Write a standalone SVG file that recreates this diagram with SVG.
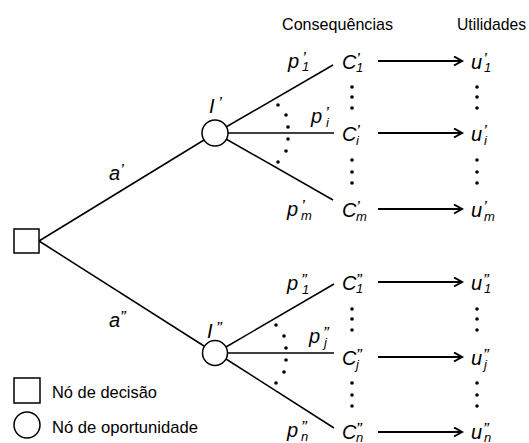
<svg xmlns="http://www.w3.org/2000/svg" width="529" height="443" viewBox="0 0 529 443">
<style>
text{font-family:"Liberation Sans",Arial,sans-serif;fill:#000}
.h{font-size:17px}
.v{font-size:20px;font-style:italic}
.pr{font-size:17px;font-style:italic}
.sb{font-size:13px;font-style:italic}
.ln{stroke:#000;stroke-width:1.5;fill:none}
.ar{stroke:#000;stroke-width:2;fill:none;marker-end:url(#ah)}
.nd{stroke:#000;stroke-width:1.5;fill:#fff}
.dt{fill:#000}
</style>
<defs>
<marker id="ah" markerWidth="12" markerHeight="12" refX="9" refY="5" orient="auto" markerUnits="userSpaceOnUse">
<path d="M1,0.5 L9,5 L1,9.5" stroke="#000" stroke-width="2" fill="none"/>
</marker>
</defs>
<text class="h" x="282" y="30" textLength="111" lengthAdjust="spacingAndGlyphs">Consequências</text>
<text class="h" x="457" y="30" textLength="69" lengthAdjust="spacingAndGlyphs">Utilidades</text>
<g id="connectors">
<line class="ln" x1="39" y1="241" x2="204" y2="140"/>
<line class="ln" x1="39" y1="241" x2="204" y2="346"/>
<line class="ln" x1="226" y1="127" x2="333" y2="65"/>
<line class="ln" x1="228" y1="133" x2="334" y2="133"/>
<line class="ln" x1="226" y1="139" x2="333" y2="200"/>
<line class="ln" x1="226" y1="347" x2="334" y2="284"/>
<line class="ln" x1="227" y1="353" x2="334" y2="353"/>
<line class="ln" x1="226" y1="359" x2="334" y2="428"/>
<line class="ar" x1="378" y1="61" x2="462" y2="61"/>
<line class="ar" x1="378" y1="133" x2="462" y2="133"/>
<line class="ar" x1="378" y1="209" x2="462" y2="209"/>
<line class="ar" x1="378" y1="282" x2="462" y2="282"/>
<line class="ar" x1="378" y1="357" x2="462" y2="357"/>
<line class="ar" x1="378" y1="432" x2="462" y2="432"/>
</g>
<g id="decision">
<rect class="nd" x="14" y="229" width="25" height="24"/>
</g>
<g id="chance1">
<circle class="nd" cx="215" cy="133" r="13"/>
<text><tspan class="v" x="209" y="113">I</tspan><tspan class="pr" x="218" y="109">’</tspan></text>
</g>
<g id="chance2">
<circle class="nd" cx="215" cy="353" r="12.5"/>
<text><tspan class="v" x="207" y="338">I</tspan><tspan class="pr" x="216" y="334">”</tspan></text>
</g>
<g id="labels-a">
<text><tspan class="v" x="109" y="180">a</tspan><tspan class="pr" x="120" y="176">’</tspan></text>
<text><tspan class="v" x="109" y="327">a</tspan><tspan class="pr" x="120" y="323">”</tspan></text>
</g>
<g id="probs1">
<text><tspan class="v" x="288" y="68">p</tspan><tspan class="pr" x="302" y="64">’</tspan><tspan class="sb" x="302" y="71">1</tspan></text>
<text><tspan class="v" x="311" y="123">p</tspan><tspan class="pr" x="325" y="119">’</tspan><tspan class="sb" x="326" y="127">i</tspan></text>
<text><tspan class="v" x="287" y="216">p</tspan><tspan class="pr" x="301" y="212">’</tspan><tspan class="sb" x="301" y="220">m</tspan></text>
<g class="dt">
<circle cx="278" cy="105" r="1.8"/><circle cx="286" cy="115" r="1.8"/><circle cx="288" cy="127" r="1.8"/>
<circle cx="288" cy="139" r="1.8"/><circle cx="286" cy="151" r="1.8"/><circle cx="278" cy="162" r="1.8"/>
</g>
</g>
<g id="probs2">
<text><tspan class="v" x="287" y="290">p</tspan><tspan class="pr" x="301" y="286">”</tspan><tspan class="sb" x="302" y="294">1</tspan></text>
<text><tspan class="v" x="309" y="343">p</tspan><tspan class="pr" x="323" y="339">”</tspan><tspan class="sb" x="324" y="347">j</tspan></text>
<text><tspan class="v" x="287" y="437">p</tspan><tspan class="pr" x="301" y="433">”</tspan><tspan class="sb" x="301" y="441">n</tspan></text>
<g class="dt">
<circle cx="276" cy="325" r="1.8"/><circle cx="284" cy="336" r="1.8"/><circle cx="286" cy="348" r="1.8"/>
<circle cx="286" cy="360" r="1.8"/><circle cx="284" cy="372" r="1.8"/><circle cx="276" cy="383" r="1.8"/>
</g>
</g>
<g id="consequences1">
<text><tspan class="v" x="342" y="69">C</tspan><tspan class="pr" x="356" y="65">’</tspan><tspan class="sb" x="356" y="72">1</tspan></text>
<text><tspan class="v" x="342" y="141">C</tspan><tspan class="pr" x="356" y="137">’</tspan><tspan class="sb" x="356" y="145">i</tspan></text>
<text><tspan class="v" x="342" y="217">C</tspan><tspan class="pr" x="356" y="213">’</tspan><tspan class="sb" x="356" y="221">m</tspan></text>
<g class="dt">
<circle cx="352" cy="87" r="1.8"/><circle cx="352" cy="97" r="1.8"/><circle cx="352" cy="108" r="1.8"/>
<circle cx="352" cy="160" r="1.8"/><circle cx="352" cy="172" r="1.8"/><circle cx="352" cy="183" r="1.8"/>
</g>
</g>
<g id="consequences2">
<text><tspan class="v" x="342" y="290">C</tspan><tspan class="pr" x="356" y="286">”</tspan><tspan class="sb" x="356" y="293">1</tspan></text>
<text><tspan class="v" x="342" y="365">C</tspan><tspan class="pr" x="356" y="361">”</tspan><tspan class="sb" x="356" y="369">j</tspan></text>
<text><tspan class="v" x="342" y="439">C</tspan><tspan class="pr" x="356" y="435">”</tspan><tspan class="sb" x="356" y="442">n</tspan></text>
<g class="dt">
<circle cx="352" cy="309" r="1.8"/><circle cx="352" cy="319" r="1.8"/><circle cx="352" cy="330" r="1.8"/>
<circle cx="352" cy="383" r="1.8"/><circle cx="352" cy="395" r="1.8"/><circle cx="352" cy="406" r="1.8"/>
</g>
</g>
<g id="utilities1">
<text><tspan class="v" x="471" y="69">u</tspan><tspan class="pr" x="483" y="65">’</tspan><tspan class="sb" x="484" y="72">1</tspan></text>
<text><tspan class="v" x="471" y="141">u</tspan><tspan class="pr" x="483" y="137">’</tspan><tspan class="sb" x="484" y="145">i</tspan></text>
<text><tspan class="v" x="471" y="217">u</tspan><tspan class="pr" x="483" y="213">’</tspan><tspan class="sb" x="484" y="221">m</tspan></text>
<g class="dt">
<circle cx="477" cy="87" r="1.8"/><circle cx="477" cy="97" r="1.8"/><circle cx="477" cy="108" r="1.8"/>
<circle cx="477" cy="160" r="1.8"/><circle cx="477" cy="172" r="1.8"/><circle cx="477" cy="183" r="1.8"/>
</g>
</g>
<g id="utilities2">
<text><tspan class="v" x="471" y="290">u</tspan><tspan class="pr" x="483" y="286">”</tspan><tspan class="sb" x="484" y="293">1</tspan></text>
<text><tspan class="v" x="471" y="365">u</tspan><tspan class="pr" x="483" y="361">”</tspan><tspan class="sb" x="484" y="369">j</tspan></text>
<text><tspan class="v" x="471" y="439">u</tspan><tspan class="pr" x="483" y="435">”</tspan><tspan class="sb" x="484" y="442">n</tspan></text>
<g class="dt">
<circle cx="477" cy="309" r="1.8"/><circle cx="477" cy="319" r="1.8"/><circle cx="477" cy="330" r="1.8"/>
<circle cx="477" cy="383" r="1.8"/><circle cx="477" cy="395" r="1.8"/><circle cx="477" cy="406" r="1.8"/>
</g>
</g>
<g id="legend">
<rect class="nd" x="14" y="378" width="26" height="25"/>
<text class="h" x="52" y="398" textLength="105" lengthAdjust="spacingAndGlyphs">Nó de decisão</text>
<circle class="nd" cx="27" cy="425" r="13"/>
<text class="h" x="52" y="433" textLength="146" lengthAdjust="spacingAndGlyphs">Nó de oportunidade</text>
</g>
</svg>
